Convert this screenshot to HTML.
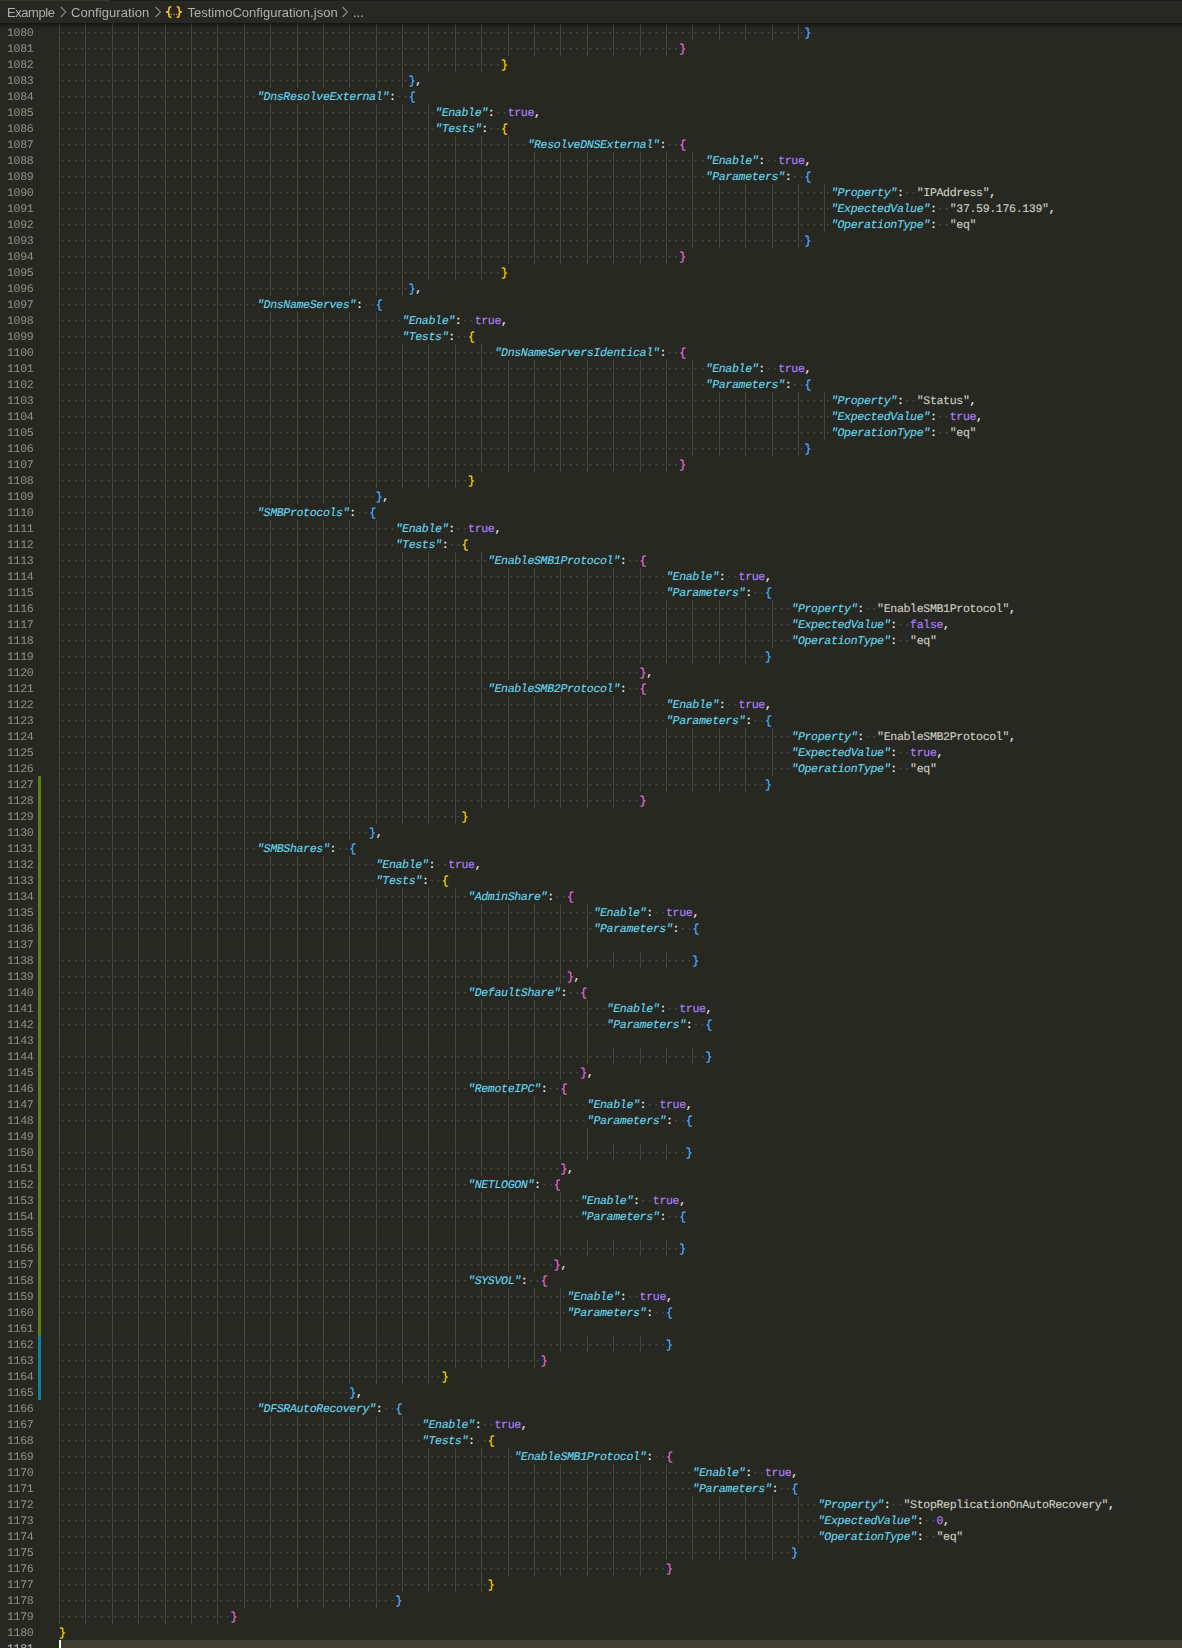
<!DOCTYPE html>
<html><head><meta charset="utf-8"><title>TestimoConfiguration.json</title>
<style>
html,body{margin:0;padding:0;background:#272822;}
body{width:1182px;height:1648px;overflow:hidden;position:relative;font-family:"Liberation Mono",monospace;}
#top{position:absolute;left:0;top:0;width:1182px;height:1px;background:#1e1f1c;}
#top i{position:absolute;left:0;top:0;width:110px;height:1px;background:#34352f;}
#bc{will-change:transform;position:absolute;left:0;top:0;width:1182px;height:22px;font-family:"Liberation Sans",sans-serif;font-size:13px;color:#b0b0ab;}
#bc span{position:absolute;top:1px;line-height:24px;white-space:nowrap;}
#ed{position:absolute;left:0;top:23px;width:1182px;height:1625px;overflow:hidden;}
#in{position:absolute;left:0;top:1px;width:1182px;height:1624px;}
#sh{position:absolute;left:0;top:0;width:1182px;height:6px;box-shadow:#000 0 6px 6px -6px inset;}
.g{position:absolute;width:1px;background:#464741;display:block;}
.l{position:absolute;left:0;height:16px;width:1182px;line-height:16px;font-size:11.6px;letter-spacing:-0.36px;text-rendering:geometricPrecision;white-space:pre;}
#ln{position:absolute;left:0;top:0;width:36px;height:1624px;will-change:transform;font-size:11.6px;letter-spacing:-0.36px;text-rendering:geometricPrecision;line-height:16px;}
.n{position:absolute;left:0;width:33.36px;text-align:right;color:#90908a;height:16px;}
.na{color:#c2c2bf;}
.c{position:absolute;left:59px;top:2px;-webkit-text-stroke:0.12px;}
.w{color:#4e4f47;-webkit-text-stroke:0;}
.k{color:#66d9ef;font-style:italic;}
.p{color:#f8f8f2;}
.s{color:#cfcfc2;}
.v{color:#ae81ff;}
.b1,.b2,.b3{-webkit-text-stroke:0.2px;}.b1{color:#ffd700;}.b2{color:#e070d6;}.b3{color:#4eb3ff;}
#hl{position:absolute;left:59px;top:1616px;width:1123px;height:16px;background:#3e3d32;}
#cur{position:absolute;left:59px;top:1616px;width:2px;height:16px;background:#f8f8f0;}
.ga{position:absolute;left:38px;width:3px;}
</style></head><body>
<div id="ed"><div id="in">
<div id="hl"></div>
<i class="g" style="left:59.00px;top:-1px;height:1601px"></i><i class="g" style="left:85.39px;top:-1px;height:1601px"></i><i class="g" style="left:111.78px;top:-1px;height:1601px"></i><i class="g" style="left:138.17px;top:-1px;height:1601px"></i><i class="g" style="left:164.56px;top:-1px;height:1601px"></i><i class="g" style="left:190.95px;top:-1px;height:1601px"></i><i class="g" style="left:217.34px;top:-1px;height:1601px"></i><i class="g" style="left:243.74px;top:-1px;height:1585px"></i><i class="g" style="left:270.13px;top:-1px;height:65px"></i><i class="g" style="left:270.13px;top:80px;height:192px"></i><i class="g" style="left:270.13px;top:288px;height:192px"></i><i class="g" style="left:270.13px;top:496px;height:320px"></i><i class="g" style="left:270.13px;top:832px;height:544px"></i><i class="g" style="left:270.13px;top:1392px;height:192px"></i><i class="g" style="left:296.52px;top:-1px;height:65px"></i><i class="g" style="left:296.52px;top:80px;height:192px"></i><i class="g" style="left:296.52px;top:288px;height:192px"></i><i class="g" style="left:296.52px;top:496px;height:320px"></i><i class="g" style="left:296.52px;top:832px;height:544px"></i><i class="g" style="left:296.52px;top:1392px;height:192px"></i><i class="g" style="left:322.91px;top:-1px;height:65px"></i><i class="g" style="left:322.91px;top:80px;height:192px"></i><i class="g" style="left:322.91px;top:288px;height:192px"></i><i class="g" style="left:322.91px;top:496px;height:320px"></i><i class="g" style="left:322.91px;top:832px;height:544px"></i><i class="g" style="left:322.91px;top:1392px;height:192px"></i><i class="g" style="left:349.30px;top:-1px;height:65px"></i><i class="g" style="left:349.30px;top:80px;height:192px"></i><i class="g" style="left:349.30px;top:288px;height:192px"></i><i class="g" style="left:349.30px;top:496px;height:320px"></i><i class="g" style="left:349.30px;top:832px;height:528px"></i><i class="g" style="left:349.30px;top:1392px;height:192px"></i><i class="g" style="left:375.69px;top:-1px;height:65px"></i><i class="g" style="left:375.69px;top:80px;height:192px"></i><i class="g" style="left:375.69px;top:288px;height:176px"></i><i class="g" style="left:375.69px;top:496px;height:304px"></i><i class="g" style="left:375.69px;top:864px;height:496px"></i><i class="g" style="left:375.69px;top:1392px;height:192px"></i><i class="g" style="left:402.08px;top:-1px;height:65px"></i><i class="g" style="left:402.08px;top:80px;height:192px"></i><i class="g" style="left:402.08px;top:320px;height:144px"></i><i class="g" style="left:402.08px;top:528px;height:272px"></i><i class="g" style="left:402.08px;top:864px;height:496px"></i><i class="g" style="left:402.08px;top:1392px;height:176px"></i><i class="g" style="left:428.47px;top:-1px;height:49px"></i><i class="g" style="left:428.47px;top:80px;height:176px"></i><i class="g" style="left:428.47px;top:320px;height:144px"></i><i class="g" style="left:428.47px;top:528px;height:272px"></i><i class="g" style="left:428.47px;top:864px;height:496px"></i><i class="g" style="left:428.47px;top:1424px;height:144px"></i><i class="g" style="left:454.86px;top:-1px;height:49px"></i><i class="g" style="left:454.86px;top:112px;height:144px"></i><i class="g" style="left:454.86px;top:320px;height:144px"></i><i class="g" style="left:454.86px;top:528px;height:272px"></i><i class="g" style="left:454.86px;top:864px;height:480px"></i><i class="g" style="left:454.86px;top:1424px;height:144px"></i><i class="g" style="left:481.25px;top:-1px;height:49px"></i><i class="g" style="left:481.25px;top:112px;height:144px"></i><i class="g" style="left:481.25px;top:320px;height:128px"></i><i class="g" style="left:481.25px;top:528px;height:256px"></i><i class="g" style="left:481.25px;top:880px;height:80px"></i><i class="g" style="left:481.25px;top:976px;height:80px"></i><i class="g" style="left:481.25px;top:1072px;height:80px"></i><i class="g" style="left:481.25px;top:1168px;height:80px"></i><i class="g" style="left:481.25px;top:1264px;height:80px"></i><i class="g" style="left:481.25px;top:1424px;height:144px"></i><i class="g" style="left:507.64px;top:-1px;height:33px"></i><i class="g" style="left:507.64px;top:112px;height:128px"></i><i class="g" style="left:507.64px;top:336px;height:112px"></i><i class="g" style="left:507.64px;top:544px;height:112px"></i><i class="g" style="left:507.64px;top:672px;height:112px"></i><i class="g" style="left:507.64px;top:880px;height:80px"></i><i class="g" style="left:507.64px;top:976px;height:80px"></i><i class="g" style="left:507.64px;top:1072px;height:80px"></i><i class="g" style="left:507.64px;top:1168px;height:80px"></i><i class="g" style="left:507.64px;top:1264px;height:80px"></i><i class="g" style="left:507.64px;top:1424px;height:128px"></i><i class="g" style="left:534.03px;top:-1px;height:33px"></i><i class="g" style="left:534.03px;top:128px;height:112px"></i><i class="g" style="left:534.03px;top:336px;height:112px"></i><i class="g" style="left:534.03px;top:544px;height:112px"></i><i class="g" style="left:534.03px;top:672px;height:112px"></i><i class="g" style="left:534.03px;top:880px;height:80px"></i><i class="g" style="left:534.03px;top:976px;height:80px"></i><i class="g" style="left:534.03px;top:1072px;height:80px"></i><i class="g" style="left:534.03px;top:1168px;height:80px"></i><i class="g" style="left:534.03px;top:1264px;height:80px"></i><i class="g" style="left:534.03px;top:1440px;height:112px"></i><i class="g" style="left:560.43px;top:-1px;height:33px"></i><i class="g" style="left:560.43px;top:128px;height:112px"></i><i class="g" style="left:560.43px;top:336px;height:112px"></i><i class="g" style="left:560.43px;top:544px;height:112px"></i><i class="g" style="left:560.43px;top:672px;height:112px"></i><i class="g" style="left:560.43px;top:880px;height:80px"></i><i class="g" style="left:560.43px;top:976px;height:80px"></i><i class="g" style="left:560.43px;top:1072px;height:64px"></i><i class="g" style="left:560.43px;top:1168px;height:64px"></i><i class="g" style="left:560.43px;top:1264px;height:64px"></i><i class="g" style="left:560.43px;top:1440px;height:112px"></i><i class="g" style="left:586.82px;top:-1px;height:33px"></i><i class="g" style="left:586.82px;top:128px;height:112px"></i><i class="g" style="left:586.82px;top:336px;height:112px"></i><i class="g" style="left:586.82px;top:544px;height:112px"></i><i class="g" style="left:586.82px;top:672px;height:112px"></i><i class="g" style="left:586.82px;top:880px;height:64px"></i><i class="g" style="left:586.82px;top:976px;height:64px"></i><i class="g" style="left:586.82px;top:1104px;height:32px"></i><i class="g" style="left:586.82px;top:1216px;height:16px"></i><i class="g" style="left:586.82px;top:1312px;height:16px"></i><i class="g" style="left:586.82px;top:1440px;height:112px"></i><i class="g" style="left:613.21px;top:-1px;height:33px"></i><i class="g" style="left:613.21px;top:128px;height:112px"></i><i class="g" style="left:613.21px;top:336px;height:112px"></i><i class="g" style="left:613.21px;top:544px;height:112px"></i><i class="g" style="left:613.21px;top:672px;height:112px"></i><i class="g" style="left:613.21px;top:928px;height:16px"></i><i class="g" style="left:613.21px;top:1024px;height:16px"></i><i class="g" style="left:613.21px;top:1120px;height:16px"></i><i class="g" style="left:613.21px;top:1216px;height:16px"></i><i class="g" style="left:613.21px;top:1312px;height:16px"></i><i class="g" style="left:613.21px;top:1440px;height:112px"></i><i class="g" style="left:639.60px;top:-1px;height:33px"></i><i class="g" style="left:639.60px;top:128px;height:112px"></i><i class="g" style="left:639.60px;top:336px;height:112px"></i><i class="g" style="left:639.60px;top:544px;height:96px"></i><i class="g" style="left:639.60px;top:672px;height:96px"></i><i class="g" style="left:639.60px;top:928px;height:16px"></i><i class="g" style="left:639.60px;top:1024px;height:16px"></i><i class="g" style="left:639.60px;top:1120px;height:16px"></i><i class="g" style="left:639.60px;top:1216px;height:16px"></i><i class="g" style="left:639.60px;top:1312px;height:16px"></i><i class="g" style="left:639.60px;top:1440px;height:112px"></i><i class="g" style="left:665.99px;top:-1px;height:33px"></i><i class="g" style="left:665.99px;top:128px;height:112px"></i><i class="g" style="left:665.99px;top:336px;height:112px"></i><i class="g" style="left:665.99px;top:576px;height:64px"></i><i class="g" style="left:665.99px;top:704px;height:64px"></i><i class="g" style="left:665.99px;top:928px;height:16px"></i><i class="g" style="left:665.99px;top:1024px;height:16px"></i><i class="g" style="left:665.99px;top:1120px;height:16px"></i><i class="g" style="left:665.99px;top:1216px;height:16px"></i><i class="g" style="left:665.99px;top:1440px;height:96px"></i><i class="g" style="left:692.38px;top:-1px;height:17px"></i><i class="g" style="left:692.38px;top:128px;height:96px"></i><i class="g" style="left:692.38px;top:336px;height:96px"></i><i class="g" style="left:692.38px;top:576px;height:64px"></i><i class="g" style="left:692.38px;top:704px;height:64px"></i><i class="g" style="left:692.38px;top:1024px;height:16px"></i><i class="g" style="left:692.38px;top:1472px;height:64px"></i><i class="g" style="left:718.77px;top:-1px;height:17px"></i><i class="g" style="left:718.77px;top:160px;height:64px"></i><i class="g" style="left:718.77px;top:368px;height:64px"></i><i class="g" style="left:718.77px;top:576px;height:64px"></i><i class="g" style="left:718.77px;top:704px;height:64px"></i><i class="g" style="left:718.77px;top:1472px;height:64px"></i><i class="g" style="left:745.16px;top:-1px;height:17px"></i><i class="g" style="left:745.16px;top:160px;height:64px"></i><i class="g" style="left:745.16px;top:368px;height:64px"></i><i class="g" style="left:745.16px;top:576px;height:64px"></i><i class="g" style="left:745.16px;top:704px;height:64px"></i><i class="g" style="left:745.16px;top:1472px;height:64px"></i><i class="g" style="left:771.55px;top:-1px;height:17px"></i><i class="g" style="left:771.55px;top:160px;height:64px"></i><i class="g" style="left:771.55px;top:368px;height:64px"></i><i class="g" style="left:771.55px;top:576px;height:48px"></i><i class="g" style="left:771.55px;top:704px;height:48px"></i><i class="g" style="left:771.55px;top:1472px;height:64px"></i><i class="g" style="left:797.94px;top:-1px;height:17px"></i><i class="g" style="left:797.94px;top:160px;height:64px"></i><i class="g" style="left:797.94px;top:368px;height:64px"></i><i class="g" style="left:797.94px;top:1472px;height:48px"></i><i class="g" style="left:824.33px;top:160px;height:48px"></i><i class="g" style="left:824.33px;top:368px;height:48px"></i>
<i class="ga" style="top:752px;height:560px;background:#5d8409"></i>
<i class="ga" style="top:1312px;height:64px;background:#0f80a0"></i>
<div class="l" style="top:0px"><span class="c"><span class="w">·················································································································</span><span class="b3">}</span></span></div>
<div class="l" style="top:16px"><span class="c"><span class="w">······························································································</span><span class="b2">}</span></span></div>
<div class="l" style="top:32px"><span class="c"><span class="w">···································································</span><span class="b1">}</span></span></div>
<div class="l" style="top:48px"><span class="c"><span class="w">·····················································</span><span class="b3">}</span><span class="p">,</span></span></div>
<div class="l" style="top:64px"><span class="c"><span class="w">······························</span><span class="k">&quot;DnsResolveExternal&quot;</span><span class="p">:</span><span class="w">··</span><span class="b3">{</span></span></div>
<div class="l" style="top:80px"><span class="c"><span class="w">·························································</span><span class="k">&quot;Enable&quot;</span><span class="p">:</span><span class="w">··</span><span class="v">true</span><span class="p">,</span></span></div>
<div class="l" style="top:96px"><span class="c"><span class="w">·························································</span><span class="k">&quot;Tests&quot;</span><span class="p">:</span><span class="w">··</span><span class="b1">{</span></span></div>
<div class="l" style="top:112px"><span class="c"><span class="w">·······································································</span><span class="k">&quot;ResolveDNSExternal&quot;</span><span class="p">:</span><span class="w">··</span><span class="b2">{</span></span></div>
<div class="l" style="top:128px"><span class="c"><span class="w">··································································································</span><span class="k">&quot;Enable&quot;</span><span class="p">:</span><span class="w">··</span><span class="v">true</span><span class="p">,</span></span></div>
<div class="l" style="top:144px"><span class="c"><span class="w">··································································································</span><span class="k">&quot;Parameters&quot;</span><span class="p">:</span><span class="w">··</span><span class="b3">{</span></span></div>
<div class="l" style="top:160px"><span class="c"><span class="w">·····················································································································</span><span class="k">&quot;Property&quot;</span><span class="p">:</span><span class="w">··</span><span class="s">&quot;IPAddress&quot;</span><span class="p">,</span></span></div>
<div class="l" style="top:176px"><span class="c"><span class="w">·····················································································································</span><span class="k">&quot;ExpectedValue&quot;</span><span class="p">:</span><span class="w">··</span><span class="s">&quot;37.59.176.139&quot;</span><span class="p">,</span></span></div>
<div class="l" style="top:192px"><span class="c"><span class="w">·····················································································································</span><span class="k">&quot;OperationType&quot;</span><span class="p">:</span><span class="w">··</span><span class="s">&quot;eq&quot;</span></span></div>
<div class="l" style="top:208px"><span class="c"><span class="w">·················································································································</span><span class="b3">}</span></span></div>
<div class="l" style="top:224px"><span class="c"><span class="w">······························································································</span><span class="b2">}</span></span></div>
<div class="l" style="top:240px"><span class="c"><span class="w">···································································</span><span class="b1">}</span></span></div>
<div class="l" style="top:256px"><span class="c"><span class="w">·····················································</span><span class="b3">}</span><span class="p">,</span></span></div>
<div class="l" style="top:272px"><span class="c"><span class="w">······························</span><span class="k">&quot;DnsNameServes&quot;</span><span class="p">:</span><span class="w">··</span><span class="b3">{</span></span></div>
<div class="l" style="top:288px"><span class="c"><span class="w">····················································</span><span class="k">&quot;Enable&quot;</span><span class="p">:</span><span class="w">··</span><span class="v">true</span><span class="p">,</span></span></div>
<div class="l" style="top:304px"><span class="c"><span class="w">····················································</span><span class="k">&quot;Tests&quot;</span><span class="p">:</span><span class="w">··</span><span class="b1">{</span></span></div>
<div class="l" style="top:320px"><span class="c"><span class="w">··································································</span><span class="k">&quot;DnsNameServersIdentical&quot;</span><span class="p">:</span><span class="w">··</span><span class="b2">{</span></span></div>
<div class="l" style="top:336px"><span class="c"><span class="w">··································································································</span><span class="k">&quot;Enable&quot;</span><span class="p">:</span><span class="w">··</span><span class="v">true</span><span class="p">,</span></span></div>
<div class="l" style="top:352px"><span class="c"><span class="w">··································································································</span><span class="k">&quot;Parameters&quot;</span><span class="p">:</span><span class="w">··</span><span class="b3">{</span></span></div>
<div class="l" style="top:368px"><span class="c"><span class="w">·····················································································································</span><span class="k">&quot;Property&quot;</span><span class="p">:</span><span class="w">··</span><span class="s">&quot;Status&quot;</span><span class="p">,</span></span></div>
<div class="l" style="top:384px"><span class="c"><span class="w">·····················································································································</span><span class="k">&quot;ExpectedValue&quot;</span><span class="p">:</span><span class="w">··</span><span class="v">true</span><span class="p">,</span></span></div>
<div class="l" style="top:400px"><span class="c"><span class="w">·····················································································································</span><span class="k">&quot;OperationType&quot;</span><span class="p">:</span><span class="w">··</span><span class="s">&quot;eq&quot;</span></span></div>
<div class="l" style="top:416px"><span class="c"><span class="w">·················································································································</span><span class="b3">}</span></span></div>
<div class="l" style="top:432px"><span class="c"><span class="w">······························································································</span><span class="b2">}</span></span></div>
<div class="l" style="top:448px"><span class="c"><span class="w">······························································</span><span class="b1">}</span></span></div>
<div class="l" style="top:464px"><span class="c"><span class="w">················································</span><span class="b3">}</span><span class="p">,</span></span></div>
<div class="l" style="top:480px"><span class="c"><span class="w">······························</span><span class="k">&quot;SMBProtocols&quot;</span><span class="p">:</span><span class="w">··</span><span class="b3">{</span></span></div>
<div class="l" style="top:496px"><span class="c"><span class="w">···················································</span><span class="k">&quot;Enable&quot;</span><span class="p">:</span><span class="w">··</span><span class="v">true</span><span class="p">,</span></span></div>
<div class="l" style="top:512px"><span class="c"><span class="w">···················································</span><span class="k">&quot;Tests&quot;</span><span class="p">:</span><span class="w">··</span><span class="b1">{</span></span></div>
<div class="l" style="top:528px"><span class="c"><span class="w">·································································</span><span class="k">&quot;EnableSMB1Protocol&quot;</span><span class="p">:</span><span class="w">··</span><span class="b2">{</span></span></div>
<div class="l" style="top:544px"><span class="c"><span class="w">····························································································</span><span class="k">&quot;Enable&quot;</span><span class="p">:</span><span class="w">··</span><span class="v">true</span><span class="p">,</span></span></div>
<div class="l" style="top:560px"><span class="c"><span class="w">····························································································</span><span class="k">&quot;Parameters&quot;</span><span class="p">:</span><span class="w">··</span><span class="b3">{</span></span></div>
<div class="l" style="top:576px"><span class="c"><span class="w">···············································································································</span><span class="k">&quot;Property&quot;</span><span class="p">:</span><span class="w">··</span><span class="s">&quot;EnableSMB1Protocol&quot;</span><span class="p">,</span></span></div>
<div class="l" style="top:592px"><span class="c"><span class="w">···············································································································</span><span class="k">&quot;ExpectedValue&quot;</span><span class="p">:</span><span class="w">··</span><span class="v">false</span><span class="p">,</span></span></div>
<div class="l" style="top:608px"><span class="c"><span class="w">···············································································································</span><span class="k">&quot;OperationType&quot;</span><span class="p">:</span><span class="w">··</span><span class="s">&quot;eq&quot;</span></span></div>
<div class="l" style="top:624px"><span class="c"><span class="w">···········································································································</span><span class="b3">}</span></span></div>
<div class="l" style="top:640px"><span class="c"><span class="w">························································································</span><span class="b2">}</span><span class="p">,</span></span></div>
<div class="l" style="top:656px"><span class="c"><span class="w">·································································</span><span class="k">&quot;EnableSMB2Protocol&quot;</span><span class="p">:</span><span class="w">··</span><span class="b2">{</span></span></div>
<div class="l" style="top:672px"><span class="c"><span class="w">····························································································</span><span class="k">&quot;Enable&quot;</span><span class="p">:</span><span class="w">··</span><span class="v">true</span><span class="p">,</span></span></div>
<div class="l" style="top:688px"><span class="c"><span class="w">····························································································</span><span class="k">&quot;Parameters&quot;</span><span class="p">:</span><span class="w">··</span><span class="b3">{</span></span></div>
<div class="l" style="top:704px"><span class="c"><span class="w">···············································································································</span><span class="k">&quot;Property&quot;</span><span class="p">:</span><span class="w">··</span><span class="s">&quot;EnableSMB2Protocol&quot;</span><span class="p">,</span></span></div>
<div class="l" style="top:720px"><span class="c"><span class="w">···············································································································</span><span class="k">&quot;ExpectedValue&quot;</span><span class="p">:</span><span class="w">··</span><span class="v">true</span><span class="p">,</span></span></div>
<div class="l" style="top:736px"><span class="c"><span class="w">···············································································································</span><span class="k">&quot;OperationType&quot;</span><span class="p">:</span><span class="w">··</span><span class="s">&quot;eq&quot;</span></span></div>
<div class="l" style="top:752px"><span class="c"><span class="w">···········································································································</span><span class="b3">}</span></span></div>
<div class="l" style="top:768px"><span class="c"><span class="w">························································································</span><span class="b2">}</span></span></div>
<div class="l" style="top:784px"><span class="c"><span class="w">·····························································</span><span class="b1">}</span></span></div>
<div class="l" style="top:800px"><span class="c"><span class="w">···············································</span><span class="b3">}</span><span class="p">,</span></span></div>
<div class="l" style="top:816px"><span class="c"><span class="w">······························</span><span class="k">&quot;SMBShares&quot;</span><span class="p">:</span><span class="w">··</span><span class="b3">{</span></span></div>
<div class="l" style="top:832px"><span class="c"><span class="w">················································</span><span class="k">&quot;Enable&quot;</span><span class="p">:</span><span class="w">··</span><span class="v">true</span><span class="p">,</span></span></div>
<div class="l" style="top:848px"><span class="c"><span class="w">················································</span><span class="k">&quot;Tests&quot;</span><span class="p">:</span><span class="w">··</span><span class="b1">{</span></span></div>
<div class="l" style="top:864px"><span class="c"><span class="w">······························································</span><span class="k">&quot;AdminShare&quot;</span><span class="p">:</span><span class="w">··</span><span class="b2">{</span></span></div>
<div class="l" style="top:880px"><span class="c"><span class="w">·················································································</span><span class="k">&quot;Enable&quot;</span><span class="p">:</span><span class="w">··</span><span class="v">true</span><span class="p">,</span></span></div>
<div class="l" style="top:896px"><span class="c"><span class="w">·················································································</span><span class="k">&quot;Parameters&quot;</span><span class="p">:</span><span class="w">··</span><span class="b3">{</span></span></div>
<div class="l" style="top:928px"><span class="c"><span class="w">································································································</span><span class="b3">}</span></span></div>
<div class="l" style="top:944px"><span class="c"><span class="w">·············································································</span><span class="b2">}</span><span class="p">,</span></span></div>
<div class="l" style="top:960px"><span class="c"><span class="w">······························································</span><span class="k">&quot;DefaultShare&quot;</span><span class="p">:</span><span class="w">··</span><span class="b2">{</span></span></div>
<div class="l" style="top:976px"><span class="c"><span class="w">···················································································</span><span class="k">&quot;Enable&quot;</span><span class="p">:</span><span class="w">··</span><span class="v">true</span><span class="p">,</span></span></div>
<div class="l" style="top:992px"><span class="c"><span class="w">···················································································</span><span class="k">&quot;Parameters&quot;</span><span class="p">:</span><span class="w">··</span><span class="b3">{</span></span></div>
<div class="l" style="top:1024px"><span class="c"><span class="w">··································································································</span><span class="b3">}</span></span></div>
<div class="l" style="top:1040px"><span class="c"><span class="w">···············································································</span><span class="b2">}</span><span class="p">,</span></span></div>
<div class="l" style="top:1056px"><span class="c"><span class="w">······························································</span><span class="k">&quot;RemoteIPC&quot;</span><span class="p">:</span><span class="w">··</span><span class="b2">{</span></span></div>
<div class="l" style="top:1072px"><span class="c"><span class="w">················································································</span><span class="k">&quot;Enable&quot;</span><span class="p">:</span><span class="w">··</span><span class="v">true</span><span class="p">,</span></span></div>
<div class="l" style="top:1088px"><span class="c"><span class="w">················································································</span><span class="k">&quot;Parameters&quot;</span><span class="p">:</span><span class="w">··</span><span class="b3">{</span></span></div>
<div class="l" style="top:1120px"><span class="c"><span class="w">·······························································································</span><span class="b3">}</span></span></div>
<div class="l" style="top:1136px"><span class="c"><span class="w">············································································</span><span class="b2">}</span><span class="p">,</span></span></div>
<div class="l" style="top:1152px"><span class="c"><span class="w">······························································</span><span class="k">&quot;NETLOGON&quot;</span><span class="p">:</span><span class="w">··</span><span class="b2">{</span></span></div>
<div class="l" style="top:1168px"><span class="c"><span class="w">···············································································</span><span class="k">&quot;Enable&quot;</span><span class="p">:</span><span class="w">··</span><span class="v">true</span><span class="p">,</span></span></div>
<div class="l" style="top:1184px"><span class="c"><span class="w">···············································································</span><span class="k">&quot;Parameters&quot;</span><span class="p">:</span><span class="w">··</span><span class="b3">{</span></span></div>
<div class="l" style="top:1216px"><span class="c"><span class="w">······························································································</span><span class="b3">}</span></span></div>
<div class="l" style="top:1232px"><span class="c"><span class="w">···········································································</span><span class="b2">}</span><span class="p">,</span></span></div>
<div class="l" style="top:1248px"><span class="c"><span class="w">······························································</span><span class="k">&quot;SYSVOL&quot;</span><span class="p">:</span><span class="w">··</span><span class="b2">{</span></span></div>
<div class="l" style="top:1264px"><span class="c"><span class="w">·············································································</span><span class="k">&quot;Enable&quot;</span><span class="p">:</span><span class="w">··</span><span class="v">true</span><span class="p">,</span></span></div>
<div class="l" style="top:1280px"><span class="c"><span class="w">·············································································</span><span class="k">&quot;Parameters&quot;</span><span class="p">:</span><span class="w">··</span><span class="b3">{</span></span></div>
<div class="l" style="top:1312px"><span class="c"><span class="w">····························································································</span><span class="b3">}</span></span></div>
<div class="l" style="top:1328px"><span class="c"><span class="w">·········································································</span><span class="b2">}</span></span></div>
<div class="l" style="top:1344px"><span class="c"><span class="w">··························································</span><span class="b1">}</span></span></div>
<div class="l" style="top:1360px"><span class="c"><span class="w">············································</span><span class="b3">}</span><span class="p">,</span></span></div>
<div class="l" style="top:1376px"><span class="c"><span class="w">······························</span><span class="k">&quot;DFSRAutoRecovery&quot;</span><span class="p">:</span><span class="w">··</span><span class="b3">{</span></span></div>
<div class="l" style="top:1392px"><span class="c"><span class="w">·······················································</span><span class="k">&quot;Enable&quot;</span><span class="p">:</span><span class="w">··</span><span class="v">true</span><span class="p">,</span></span></div>
<div class="l" style="top:1408px"><span class="c"><span class="w">·······················································</span><span class="k">&quot;Tests&quot;</span><span class="p">:</span><span class="w">··</span><span class="b1">{</span></span></div>
<div class="l" style="top:1424px"><span class="c"><span class="w">·····································································</span><span class="k">&quot;EnableSMB1Protocol&quot;</span><span class="p">:</span><span class="w">··</span><span class="b2">{</span></span></div>
<div class="l" style="top:1440px"><span class="c"><span class="w">································································································</span><span class="k">&quot;Enable&quot;</span><span class="p">:</span><span class="w">··</span><span class="v">true</span><span class="p">,</span></span></div>
<div class="l" style="top:1456px"><span class="c"><span class="w">································································································</span><span class="k">&quot;Parameters&quot;</span><span class="p">:</span><span class="w">··</span><span class="b3">{</span></span></div>
<div class="l" style="top:1472px"><span class="c"><span class="w">···················································································································</span><span class="k">&quot;Property&quot;</span><span class="p">:</span><span class="w">··</span><span class="s">&quot;StopReplicationOnAutoRecovery&quot;</span><span class="p">,</span></span></div>
<div class="l" style="top:1488px"><span class="c"><span class="w">···················································································································</span><span class="k">&quot;ExpectedValue&quot;</span><span class="p">:</span><span class="w">··</span><span class="v">0</span><span class="p">,</span></span></div>
<div class="l" style="top:1504px"><span class="c"><span class="w">···················································································································</span><span class="k">&quot;OperationType&quot;</span><span class="p">:</span><span class="w">··</span><span class="s">&quot;eq&quot;</span></span></div>
<div class="l" style="top:1520px"><span class="c"><span class="w">···············································································································</span><span class="b3">}</span></span></div>
<div class="l" style="top:1536px"><span class="c"><span class="w">····························································································</span><span class="b2">}</span></span></div>
<div class="l" style="top:1552px"><span class="c"><span class="w">·································································</span><span class="b1">}</span></span></div>
<div class="l" style="top:1568px"><span class="c"><span class="w">···················································</span><span class="b3">}</span></span></div>
<div class="l" style="top:1584px"><span class="c"><span class="w">··························</span><span class="b2">}</span></span></div>
<div class="l" style="top:1600px"><span class="c"><span class="b1">}</span></span></div>
<div id="ln"><span class="n" style="top:2px">1080</span><span class="n" style="top:18px">1081</span><span class="n" style="top:34px">1082</span><span class="n" style="top:50px">1083</span><span class="n" style="top:66px">1084</span><span class="n" style="top:82px">1085</span><span class="n" style="top:98px">1086</span><span class="n" style="top:114px">1087</span><span class="n" style="top:130px">1088</span><span class="n" style="top:146px">1089</span><span class="n" style="top:162px">1090</span><span class="n" style="top:178px">1091</span><span class="n" style="top:194px">1092</span><span class="n" style="top:210px">1093</span><span class="n" style="top:226px">1094</span><span class="n" style="top:242px">1095</span><span class="n" style="top:258px">1096</span><span class="n" style="top:274px">1097</span><span class="n" style="top:290px">1098</span><span class="n" style="top:306px">1099</span><span class="n" style="top:322px">1100</span><span class="n" style="top:338px">1101</span><span class="n" style="top:354px">1102</span><span class="n" style="top:370px">1103</span><span class="n" style="top:386px">1104</span><span class="n" style="top:402px">1105</span><span class="n" style="top:418px">1106</span><span class="n" style="top:434px">1107</span><span class="n" style="top:450px">1108</span><span class="n" style="top:466px">1109</span><span class="n" style="top:482px">1110</span><span class="n" style="top:498px">1111</span><span class="n" style="top:514px">1112</span><span class="n" style="top:530px">1113</span><span class="n" style="top:546px">1114</span><span class="n" style="top:562px">1115</span><span class="n" style="top:578px">1116</span><span class="n" style="top:594px">1117</span><span class="n" style="top:610px">1118</span><span class="n" style="top:626px">1119</span><span class="n" style="top:642px">1120</span><span class="n" style="top:658px">1121</span><span class="n" style="top:674px">1122</span><span class="n" style="top:690px">1123</span><span class="n" style="top:706px">1124</span><span class="n" style="top:722px">1125</span><span class="n" style="top:738px">1126</span><span class="n" style="top:754px">1127</span><span class="n" style="top:770px">1128</span><span class="n" style="top:786px">1129</span><span class="n" style="top:802px">1130</span><span class="n" style="top:818px">1131</span><span class="n" style="top:834px">1132</span><span class="n" style="top:850px">1133</span><span class="n" style="top:866px">1134</span><span class="n" style="top:882px">1135</span><span class="n" style="top:898px">1136</span><span class="n" style="top:914px">1137</span><span class="n" style="top:930px">1138</span><span class="n" style="top:946px">1139</span><span class="n" style="top:962px">1140</span><span class="n" style="top:978px">1141</span><span class="n" style="top:994px">1142</span><span class="n" style="top:1010px">1143</span><span class="n" style="top:1026px">1144</span><span class="n" style="top:1042px">1145</span><span class="n" style="top:1058px">1146</span><span class="n" style="top:1074px">1147</span><span class="n" style="top:1090px">1148</span><span class="n" style="top:1106px">1149</span><span class="n" style="top:1122px">1150</span><span class="n" style="top:1138px">1151</span><span class="n" style="top:1154px">1152</span><span class="n" style="top:1170px">1153</span><span class="n" style="top:1186px">1154</span><span class="n" style="top:1202px">1155</span><span class="n" style="top:1218px">1156</span><span class="n" style="top:1234px">1157</span><span class="n" style="top:1250px">1158</span><span class="n" style="top:1266px">1159</span><span class="n" style="top:1282px">1160</span><span class="n" style="top:1298px">1161</span><span class="n" style="top:1314px">1162</span><span class="n" style="top:1330px">1163</span><span class="n" style="top:1346px">1164</span><span class="n" style="top:1362px">1165</span><span class="n" style="top:1378px">1166</span><span class="n" style="top:1394px">1167</span><span class="n" style="top:1410px">1168</span><span class="n" style="top:1426px">1169</span><span class="n" style="top:1442px">1170</span><span class="n" style="top:1458px">1171</span><span class="n" style="top:1474px">1172</span><span class="n" style="top:1490px">1173</span><span class="n" style="top:1506px">1174</span><span class="n" style="top:1522px">1175</span><span class="n" style="top:1538px">1176</span><span class="n" style="top:1554px">1177</span><span class="n" style="top:1570px">1178</span><span class="n" style="top:1586px">1179</span><span class="n" style="top:1602px">1180</span><span class="n na" style="top:1618px">1181</span></div>
<div id="cur"></div>
</div><div id="sh"></div>
</div>
<div id="bc">
<span style="left:7px;letter-spacing:-0.44px">Example</span>
<span style="left:71px;letter-spacing:0.08px">Configuration</span>
<span style="left:187.4px;letter-spacing:0.03px">TestimoConfiguration.json</span>
<span style="left:353px">...</span>
<svg style="position:absolute;left:0;top:0" width="400" height="24" viewBox="0 0 400 24" fill="none">
<g stroke="#9f9f9a" stroke-width="1.05" stroke-linecap="round" stroke-linejoin="round">
<path d="M61.2 7.4L65.7 12L61.2 16.6"/><path d="M156 7.4L160.5 12L156 16.6"/><path d="M342.9 7.4L347.4 12L342.9 16.6"/>
</g>
<g stroke="#f6be27" stroke-width="1.6">
<path d="M171.3 6.7C169.1 6.7 168.8 7.3 168.8 9L168.8 10.4C168.8 11.5 168 11.95 166 11.95C168 11.95 168.8 12.4 168.8 13.5L168.8 15C168.8 16.7 169.1 17.3 171.3 17.3"/>
<path d="M176.7 6.7C178.9 6.7 179.2 7.3 179.2 9L179.2 10.4C179.2 11.5 180 11.95 182 11.95C180 11.95 179.2 12.4 179.2 13.5L179.2 15C179.2 16.7 178.9 17.3 176.7 17.3"/>
</g>
<g fill="#c89c22"><circle cx="171.3" cy="14.4" r="0.75"/><circle cx="174" cy="14.4" r="0.75"/><circle cx="176.7" cy="14.4" r="0.75"/></g>
</svg>
</div>
<div id="top"><i></i></div>
</body></html>
